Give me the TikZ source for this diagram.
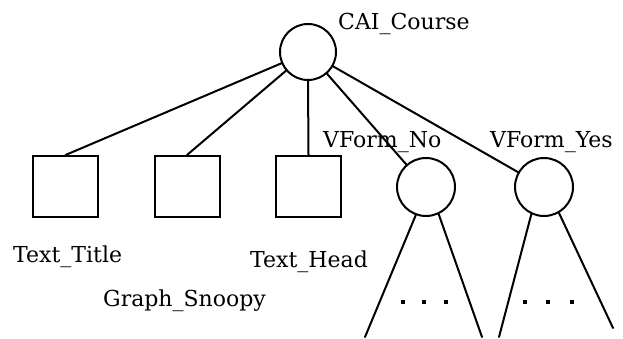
\documentclass[tikz,border=0pt]{standalone}
\usepackage{fontspec}
\setmainfont{DejaVu Serif}
\begin{document}
\begin{tikzpicture}[x=1pt,y=-1pt,
  treeline/.style={line width=2pt,line cap=round},
  circnode/.style={circle,draw,line width=2pt,minimum size=56pt,inner sep=0pt},
  boxnode/.style={rectangle,draw,line width=2pt,minimum width=65pt,minimum height=61pt,inner sep=0pt},
  lbl/.style={anchor=base west,inner sep=0pt,font=\fontsize{22}{24}\selectfont},
  dotmark/.style={fill,minimum size=4.5pt,inner sep=0pt,rectangle}]
\useasboundingbox (0,0) rectangle (623,339);
% root and its children
\node[circnode] (root) at (308,52) {};
\node[boxnode] (b1) at (65.5,186.5) {};
\node[boxnode] (b2) at (187,186.5) {};
\node[boxnode] (b3) at (308.5,186.5) {};
\node[circnode,minimum size=58pt] (vno) at (426,187) {};
\node[circnode,minimum size=58pt] (vyes) at (544,187) {};
% labels
\node[lbl] (lroot) at (338,30) {CAI\_Course};
\node[lbl] (lno) at (323,148) {VForm\_No};
\node[lbl] (lyes) at (490,148) {VForm\_Yes};
\node[lbl] (ltitle) at (13,262) {Text\_Title};
\node[lbl] (lhead) at (250,267) {Text\_Head};
\node[lbl] (lsnoopy) at (103,306) {Graph\_Snoopy};
% edges from the root
\draw[treeline] (root) -- (b1.north);
\draw[treeline] (root) -- (b2.north);
\draw[treeline] (root.south) -- (b3.north);
\draw[treeline] (root) -- (vno);
\draw[treeline] (root) -- (vyes);
% open subtrees below the two forms
\coordinate (nol) at (365,337);
\coordinate (nor) at (482,337);
\coordinate (yesl) at (499,337);
\coordinate (yesr) at (613,328);
\draw[treeline] (vno.250) -- (nol);
\draw[treeline] (vno.295) -- (nor);
\draw[treeline] (vyes.245) -- (yesl);
\draw[treeline] (vyes.300) -- (yesr);
\foreach \x [count=\i] in {403,424,446} \node[dotmark] (dn\i) at (\x,302) {};
\foreach \x [count=\i] in {525,548,572} \node[dotmark] (dy\i) at (\x,302) {};
\end{tikzpicture}
\end{document}
